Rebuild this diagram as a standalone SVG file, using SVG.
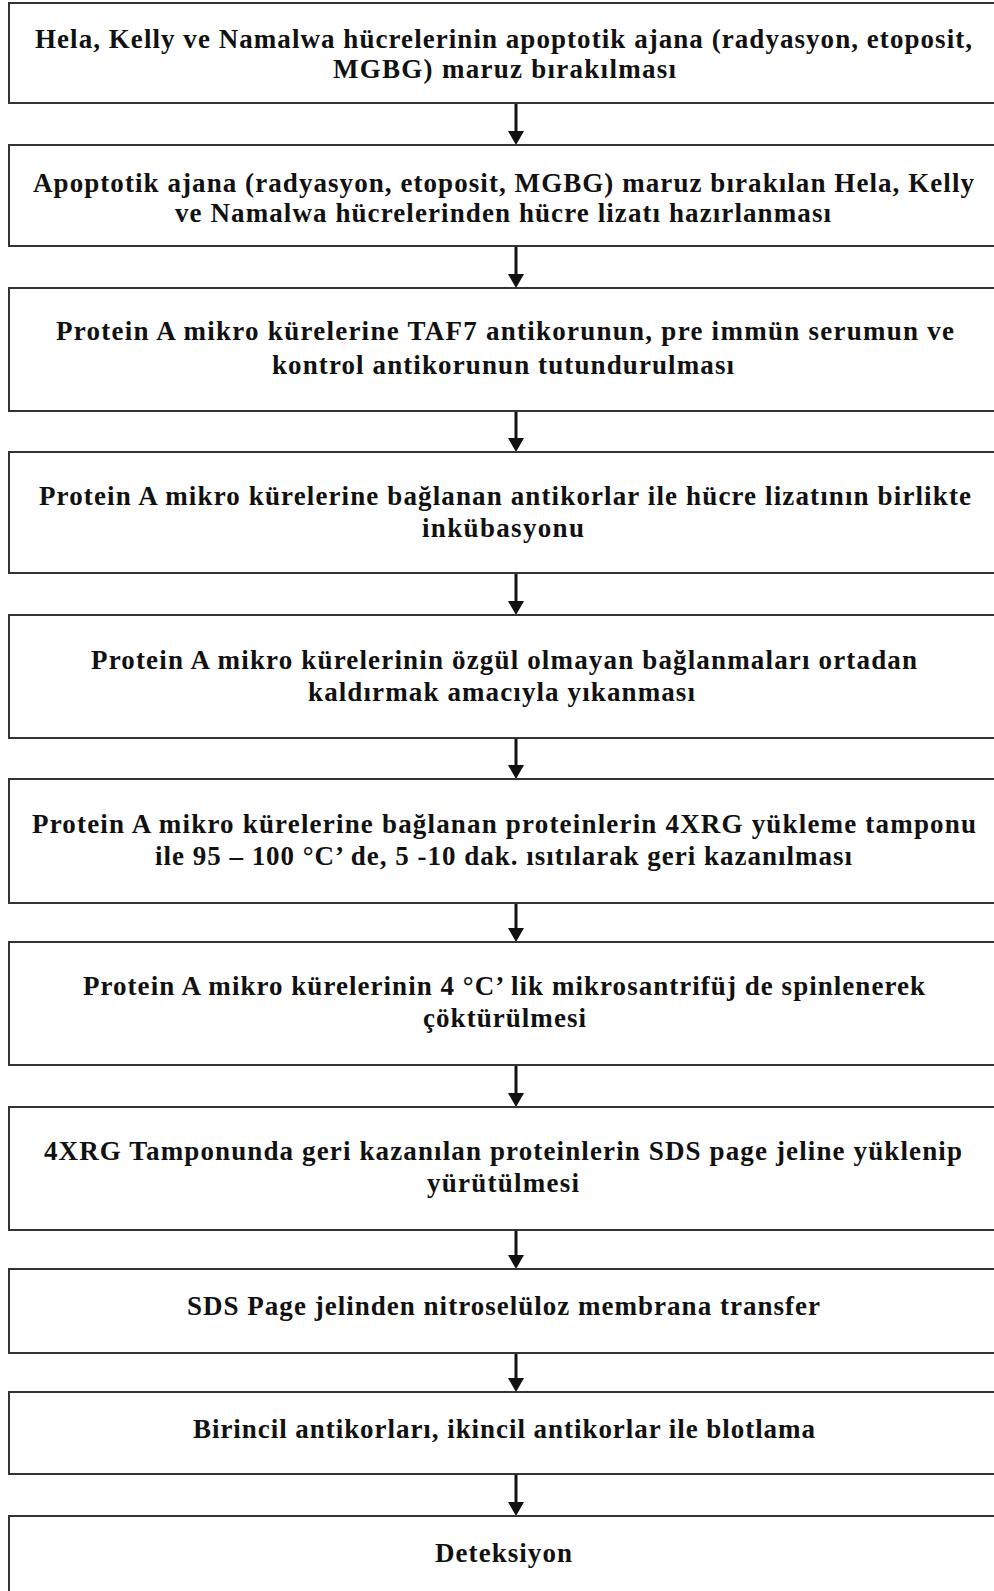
<svg xmlns="http://www.w3.org/2000/svg" width="994" height="1591" viewBox="0 0 994 1591">
<style>
.box{fill:#ffffff;stroke:#333333;stroke-width:2}
.t{font-family:"Liberation Serif","Times New Roman",serif;font-weight:bold;font-size:27px;fill:#111111}
.c{stroke:#111111;stroke-width:3;fill:none}
</style>
<defs>
<marker id="ah" markerUnits="userSpaceOnUse" viewBox="0 0 14 16" markerWidth="14" markerHeight="16" refX="2" refY="8" orient="auto">
<path d="M0,0 L14,8 L0,16 Z" fill="#111111"/>
</marker>
</defs>
<rect x="0" y="0" width="994" height="1591" fill="#ffffff"/>
<g id="connectors">
<line class="c" x1="516" y1="103" x2="516" y2="133" marker-end="url(#ah)"/>
<line class="c" x1="516" y1="246" x2="516" y2="276" marker-end="url(#ah)"/>
<line class="c" x1="516" y1="411" x2="516" y2="440" marker-end="url(#ah)"/>
<line class="c" x1="516" y1="573" x2="516" y2="603" marker-end="url(#ah)"/>
<line class="c" x1="516" y1="738" x2="516" y2="767" marker-end="url(#ah)"/>
<line class="c" x1="516" y1="903" x2="516" y2="930" marker-end="url(#ah)"/>
<line class="c" x1="516" y1="1065" x2="516" y2="1095" marker-end="url(#ah)"/>
<line class="c" x1="516" y1="1230" x2="516" y2="1257" marker-end="url(#ah)"/>
<line class="c" x1="516" y1="1353" x2="516" y2="1380" marker-end="url(#ah)"/>
<line class="c" x1="516" y1="1474" x2="516" y2="1504" marker-end="url(#ah)"/>
</g>
<g id="n1"><rect class="box" x="9" y="3" width="1000" height="100"/>
<text class="t" x="35" y="48" textLength="937" lengthAdjust="spacing">Hela, Kelly ve Namalwa hücrelerinin apoptotik ajana (radyasyon, etoposit,</text>
<text class="t" x="333" y="78" textLength="343" lengthAdjust="spacing">MGBG) maruz bırakılması</text></g>
<g id="n2"><rect class="box" x="9" y="145" width="1000" height="101"/>
<text class="t" x="33" y="192" textLength="941" lengthAdjust="spacing">Apoptotik ajana (radyasyon, etoposit, MGBG) maruz bırakılan Hela, Kelly</text>
<text class="t" x="175" y="222" textLength="656" lengthAdjust="spacing">ve Namalwa hücrelerinden hücre lizatı hazırlanması</text></g>
<g id="n3"><rect class="box" x="9" y="288" width="1000" height="123"/>
<text class="t" x="56" y="340" textLength="898" lengthAdjust="spacing">Protein A mikro kürelerine TAF7 antikorunun, pre immün serumun ve</text>
<text class="t" x="272" y="374" textLength="462" lengthAdjust="spacing">kontrol antikorunun tutundurulması</text></g>
<g id="n4"><rect class="box" x="9" y="452" width="1000" height="121"/>
<text class="t" x="39" y="505" textLength="932" lengthAdjust="spacing">Protein A mikro kürelerine bağlanan antikorlar ile hücre lizatının birlikte</text>
<text class="t" x="422" y="537" textLength="162" lengthAdjust="spacing">inkübasyonu</text></g>
<g id="n5"><rect class="box" x="9" y="615" width="1000" height="123"/>
<text class="t" x="91" y="669" textLength="826" lengthAdjust="spacing">Protein A mikro kürelerinin özgül olmayan bağlanmaları ortadan</text>
<text class="t" x="308" y="701" textLength="387" lengthAdjust="spacing">kaldırmak amacıyla yıkanması</text></g>
<g id="n6"><rect class="box" x="9" y="779" width="1000" height="124"/>
<text class="t" x="32" y="833" textLength="944" lengthAdjust="spacing">Protein A mikro kürelerine bağlanan proteinlerin 4XRG yükleme tamponu</text>
<text class="t" x="155" y="865" textLength="697" lengthAdjust="spacing">ile 95 – 100 °C’ de, 5 -10 dak. ısıtılarak geri kazanılması</text></g>
<g id="n7"><rect class="box" x="9" y="942" width="1000" height="123"/>
<text class="t" x="83" y="995" textLength="842" lengthAdjust="spacing">Protein A mikro kürelerinin 4 °C’ lik mikrosantrifüj de spinlenerek</text>
<text class="t" x="423" y="1027" textLength="163" lengthAdjust="spacing">çöktürülmesi</text></g>
<g id="n8"><rect class="box" x="9" y="1107" width="1000" height="123"/>
<text class="t" x="44" y="1160" textLength="918" lengthAdjust="spacing">4XRG Tamponunda geri kazanılan proteinlerin SDS page jeline yüklenip</text>
<text class="t" x="427" y="1192" textLength="152" lengthAdjust="spacing">yürütülmesi</text></g>
<g id="n9"><rect class="box" x="9" y="1269" width="1000" height="84"/>
<text class="t" x="187" y="1315" textLength="633" lengthAdjust="spacing">SDS Page jelinden nitroselüloz membrana transfer</text></g>
<g id="n10"><rect class="box" x="9" y="1392" width="1000" height="82"/>
<text class="t" x="193" y="1438" textLength="622" lengthAdjust="spacing">Birincil antikorları, ikincil antikorlar ile blotlama</text></g>
<g id="n11"><rect class="box" x="9" y="1516" width="1000" height="100"/>
<text class="t" x="435" y="1562" textLength="137" lengthAdjust="spacing">Deteksiyon</text></g>
</svg>
